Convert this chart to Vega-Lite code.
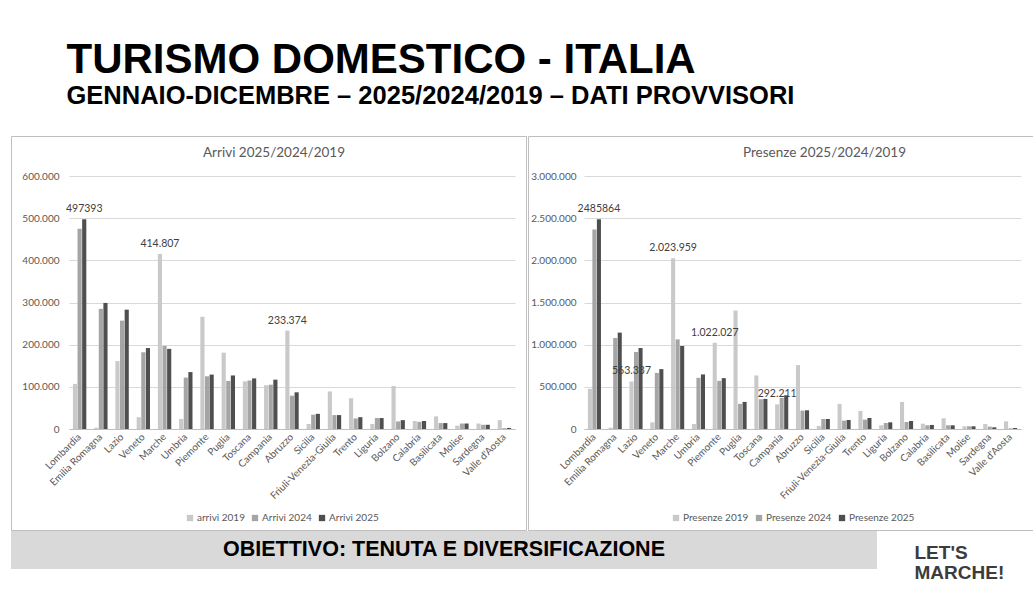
{
  "$schema": "https://vega.github.io/schema/vega-lite/v6.json",
  "padding": {"left": 10, "top": 39, "right": 0, "bottom": 0},
  "background": "white",
  "title": {
    "text": "TURISMO DOMESTICO - ITALIA",
    "subtitle": "GENNAIO-DICEMBRE – 2025/2024/2019 – DATI PROVVISORI",
    "anchor": "start", "frame": "bounds", "dx": 56, "offset": 25,
    "font": "Liberation Sans", "fontSize": 42, "fontWeight": "bold", "color": "#000000",
    "subtitleFont": "Liberation Sans", "subtitleFontSize": 25.5, "subtitleFontWeight": "bold",
    "subtitleColor": "#000000", "subtitlePadding": 2
  },
  "datasets": {
    "dati": [
      {"regione": "Lombardia", "anno": "2019", "arrivi": 107000, "presenze": 476000},
      {"regione": "Lombardia", "anno": "2024", "arrivi": 475000, "presenze": 2365000},
      {"regione": "Lombardia", "anno": "2025", "arrivi": 497393, "presenze": 2485864, "eA": "497393", "eP": "2485864"},
      {"regione": "Emilia Romagna", "anno": "2019", "arrivi": 3000, "presenze": 16000},
      {"regione": "Emilia Romagna", "anno": "2024", "arrivi": 285000, "presenze": 1079000},
      {"regione": "Emilia Romagna", "anno": "2025", "arrivi": 299000, "presenze": 1143000},
      {"regione": "Lazio", "anno": "2019", "arrivi": 161000, "presenze": 563337, "eP": "563.337"},
      {"regione": "Lazio", "anno": "2024", "arrivi": 257000, "presenze": 913000},
      {"regione": "Lazio", "anno": "2025", "arrivi": 283000, "presenze": 960000},
      {"regione": "Veneto", "anno": "2019", "arrivi": 28000, "presenze": 79000},
      {"regione": "Veneto", "anno": "2024", "arrivi": 182000, "presenze": 665000},
      {"regione": "Veneto", "anno": "2025", "arrivi": 192000, "presenze": 710000},
      {"regione": "Marche", "anno": "2019", "arrivi": 414807, "presenze": 2023959, "eA": "414.807", "eP": "2.023.959"},
      {"regione": "Marche", "anno": "2024", "arrivi": 197000, "presenze": 1063000},
      {"regione": "Marche", "anno": "2025", "arrivi": 190000, "presenze": 984000},
      {"regione": "Umbria", "anno": "2019", "arrivi": 24000, "presenze": 60000},
      {"regione": "Umbria", "anno": "2024", "arrivi": 122000, "presenze": 607000},
      {"regione": "Umbria", "anno": "2025", "arrivi": 135000, "presenze": 647000},
      {"regione": "Piemonte", "anno": "2019", "arrivi": 266000, "presenze": 1022027, "eP": "1.022.027"},
      {"regione": "Piemonte", "anno": "2024", "arrivi": 125000, "presenze": 571000},
      {"regione": "Piemonte", "anno": "2025", "arrivi": 129000, "presenze": 603000},
      {"regione": "Puglia", "anno": "2019", "arrivi": 181000, "presenze": 1405000},
      {"regione": "Puglia", "anno": "2024", "arrivi": 114000, "presenze": 298000},
      {"regione": "Puglia", "anno": "2025", "arrivi": 127000, "presenze": 321000},
      {"regione": "Toscana", "anno": "2019", "arrivi": 113000, "presenze": 635000},
      {"regione": "Toscana", "anno": "2024", "arrivi": 115000, "presenze": 353000},
      {"regione": "Toscana", "anno": "2025", "arrivi": 120000, "presenze": 357000},
      {"regione": "Campania", "anno": "2019", "arrivi": 104000, "presenze": 292211, "eP": "292.211"},
      {"regione": "Campania", "anno": "2024", "arrivi": 105000, "presenze": 369000},
      {"regione": "Campania", "anno": "2025", "arrivi": 117000, "presenze": 400000},
      {"regione": "Abruzzo", "anno": "2019", "arrivi": 233374, "presenze": 758000, "eA": "233.374"},
      {"regione": "Abruzzo", "anno": "2024", "arrivi": 79000, "presenze": 218000},
      {"regione": "Abruzzo", "anno": "2025", "arrivi": 87000, "presenze": 222000},
      {"regione": "Sicilia", "anno": "2019", "arrivi": 12000, "presenze": 36000},
      {"regione": "Sicilia", "anno": "2024", "arrivi": 34000, "presenze": 119000},
      {"regione": "Sicilia", "anno": "2025", "arrivi": 36000, "presenze": 119000},
      {"regione": "Friuli-Venezia-Giulia", "anno": "2019", "arrivi": 89000, "presenze": 298000},
      {"regione": "Friuli-Venezia-Giulia", "anno": "2024", "arrivi": 33000, "presenze": 99000},
      {"regione": "Friuli-Venezia-Giulia", "anno": "2025", "arrivi": 33000, "presenze": 107000},
      {"regione": "Trento", "anno": "2019", "arrivi": 73000, "presenze": 214000},
      {"regione": "Trento", "anno": "2024", "arrivi": 25000, "presenze": 111000},
      {"regione": "Trento", "anno": "2025", "arrivi": 28000, "presenze": 131000},
      {"regione": "Liguria", "anno": "2019", "arrivi": 12000, "presenze": 44000},
      {"regione": "Liguria", "anno": "2024", "arrivi": 26000, "presenze": 71000},
      {"regione": "Liguria", "anno": "2025", "arrivi": 26000, "presenze": 79000},
      {"regione": "Bolzano", "anno": "2019", "arrivi": 102000, "presenze": 321000},
      {"regione": "Bolzano", "anno": "2024", "arrivi": 18000, "presenze": 83000},
      {"regione": "Bolzano", "anno": "2025", "arrivi": 21000, "presenze": 95000},
      {"regione": "Calabria", "anno": "2019", "arrivi": 19000, "presenze": 63000},
      {"regione": "Calabria", "anno": "2024", "arrivi": 17000, "presenze": 44000},
      {"regione": "Calabria", "anno": "2025", "arrivi": 19000, "presenze": 48000},
      {"regione": "Basilicata", "anno": "2019", "arrivi": 30000, "presenze": 127000},
      {"regione": "Basilicata", "anno": "2024", "arrivi": 14000, "presenze": 44000},
      {"regione": "Basilicata", "anno": "2025", "arrivi": 14000, "presenze": 44000},
      {"regione": "Molise", "anno": "2019", "arrivi": 8000, "presenze": 32000},
      {"regione": "Molise", "anno": "2024", "arrivi": 13000, "presenze": 32000},
      {"regione": "Molise", "anno": "2025", "arrivi": 13000, "presenze": 32000},
      {"regione": "Sardegna", "anno": "2019", "arrivi": 13000, "presenze": 60000},
      {"regione": "Sardegna", "anno": "2024", "arrivi": 10000, "presenze": 28000},
      {"regione": "Sardegna", "anno": "2025", "arrivi": 10000, "presenze": 20000},
      {"regione": "Valle d'Aosta", "anno": "2019", "arrivi": 21000, "presenze": 91000},
      {"regione": "Valle d'Aosta", "anno": "2024", "arrivi": 2000, "presenze": 8000},
      {"regione": "Valle d'Aosta", "anno": "2025", "arrivi": 2500, "presenze": 12000}
    ]
  },
  "spacing": 0,
  "vconcat": [
    {
      "spacing": 0,
      "resolve": {"scale": {"color": "independent", "x": "independent", "y": "independent", "xOffset": "independent"}, "legend": {"color": "independent"}},
      "hconcat": [
        {
          "width": 515, "height": 394,
          "data": {"name": "dati"},
          "title": {"text": "Arrivi 2025/2024/2019", "anchor": "start", "frame": "group", "dx": 192, "offset": -23},
          "layer": [
            {
              "mark": {"type": "bar"},
              "encoding": {
                "x": {"field": "regione", "type": "nominal", "sort": null,
                      "scale": {"range": [58, 504], "paddingInner": 0.37, "paddingOuter": 0.185},
                      "axis": {"title": null, "offset": -101, "labelAngle": -45, "labelAlign": "right", "labelBaseline": "middle", "ticks": false, "domainColor": "#bfbfbf", "labelPadding": 6, "grid": false}},
                "xOffset": {"field": "anno", "type": "nominal", "scale": {"paddingInner": 0.1}},
                "y": {"field": "arrivi", "type": "quantitative",
                      "scale": {"domain": [0, 600000], "range": [293, 40], "nice": false},
                      "axis": {"title": null, "offset": -58, "values": [0, 100000, 200000, 300000, 400000, 500000, 600000], "format": ",d", "domain": false, "ticks": false, "labelPadding": 10, "grid": true}},
                "color": {"field": "anno", "type": "nominal",
                          "scale": {"domain": ["2019", "2024", "2025"], "range": ["#c9c9c9", "#a5a5a5", "#4f4f4f"]},
                          "legend": {"title": null, "orient": "none", "legendX": 174, "legendY": 377, "direction": "horizontal", "symbolType": "square", "columnPadding": 5, "labelOffset": 2,
                                     "labelExpr": "datum.label == '2019' ? 'arrivi 2019' : 'Arrivi ' + datum.label"}}
              }
            },
            {
              "transform": [{"filter": "isValid(datum.eA)"}],
              "mark": {"type": "text", "dy": -10, "fontSize": 10.5, "color": "#404040"},
              "encoding": {
                "x": {"field": "regione", "type": "nominal", "sort": null},
                "xOffset": {"field": "anno", "type": "nominal"},
                "y": {"field": "arrivi", "type": "quantitative"},
                "text": {"field": "eA"}
              }
            }
          ]
        },
        {
          "width": 505, "height": 394,
          "data": {"name": "dati"},
          "title": {"text": "Presenze 2025/2024/2019", "anchor": "start", "frame": "group", "dx": 215, "offset": -23},
          "layer": [
            {
              "mark": {"type": "bar"},
              "encoding": {
                "x": {"field": "regione", "type": "nominal", "sort": null,
                      "scale": {"range": [56, 493], "paddingInner": 0.37, "paddingOuter": 0.185},
                      "axis": {"title": null, "offset": -101, "labelAngle": -45, "labelAlign": "right", "labelBaseline": "middle", "ticks": false, "domainColor": "#bfbfbf", "labelPadding": 6, "grid": false}},
                "xOffset": {"field": "anno", "type": "nominal", "scale": {"paddingInner": 0.1}},
                "y": {"field": "presenze", "type": "quantitative",
                      "scale": {"domain": [0, 3000000], "range": [293, 40], "nice": false},
                      "axis": {"title": null, "offset": -56, "values": [0, 500000, 1000000, 1500000, 2000000, 2500000, 3000000], "format": ",d", "domain": false, "ticks": false, "labelPadding": 8, "grid": true}},
                "color": {"field": "anno", "type": "nominal",
                          "scale": {"domain": ["2019", "2024", "2025"], "range": ["#c9c9c9", "#a5a5a5", "#4f4f4f"]},
                          "legend": {"title": null, "orient": "none", "legendX": 143, "legendY": 377, "direction": "horizontal", "symbolType": "square", "columnPadding": 5, "labelOffset": 2,
                                     "labelExpr": "'Presenze ' + datum.label"}}
              }
            },
            {
              "transform": [{"filter": "isValid(datum.eP)"}],
              "mark": {"type": "text", "dy": -10, "fontSize": 10.5, "color": "#404040"},
              "encoding": {
                "x": {"field": "regione", "type": "nominal", "sort": null},
                "xOffset": {"field": "anno", "type": "nominal"},
                "y": {"field": "presenze", "type": "quantitative"},
                "text": {"field": "eP"}
              }
            }
          ]
        }
      ]
    },
    {
      "spacing": 0,
      "hconcat": [
        {
          "width": 866, "height": 38,
          "view": {"fill": "#d9d9d9", "stroke": null},
          "data": {"values": [{"t": "OBIETTIVO: TENUTA E DIVERSIFICAZIONE"}]},
          "mark": {"type": "text", "font": "Liberation Sans", "fontWeight": "bold", "fontSize": 21.5, "color": "#000000"},
          "encoding": {"text": {"field": "t"}}
        },
        {
          "width": 155, "height": 38,
          "view": {"stroke": null},
          "data": {"values": [{"t": "LET'S\nMARCHE!"}]},
          "mark": {"type": "text", "lineBreak": "\n", "font": "Liberation Sans", "fontWeight": "bold", "fontSize": 19, "lineHeight": 20, "align": "left", "dx": -40, "dy": 3, "color": "#3c3c3c"},
          "encoding": {"text": {"field": "t"}}
        }
      ]
    }
  ],
  "config": {
    "locale": {"number": {"decimal": ",", "thousands": ".", "grouping": [3], "currency": ["€", ""]}},
    "font": "Lato",
    "view": {"stroke": "#bfbfbf", "strokeWidth": 1},
    "axis": {"labelFont": "Lato", "labelFontSize": 10, "labelColor": "#595959", "gridColor": "#d9d9d9"},
    "legend": {"labelFont": "Lato", "labelFontSize": 10, "labelColor": "#595959", "symbolSize": 40, "symbolStrokeWidth": 0},
    "title": {"font": "Lato", "fontSize": 13.5, "fontWeight": "normal", "color": "#595959"}
  }
}
